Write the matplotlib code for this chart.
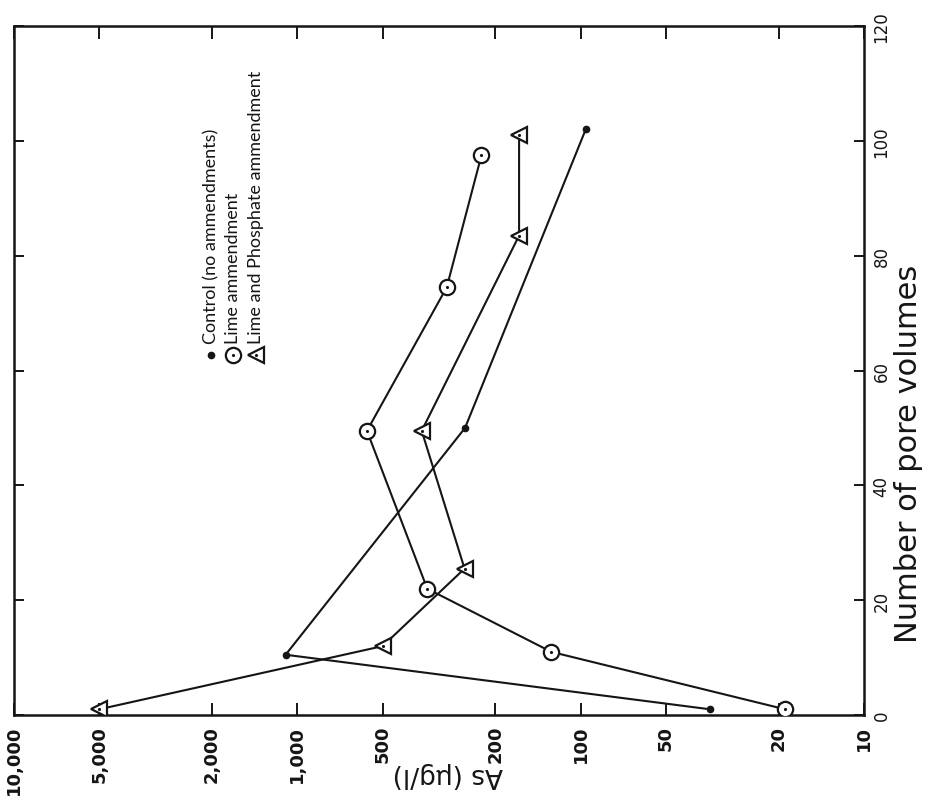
import matplotlib
matplotlib.use("Agg")
import matplotlib.pyplot as plt

# As concentration (ug/l) vs number of pore volumes
control_pv = [1, 10.5, 50, 102]
control_as = [35, 1100, 256, 96]

lime_pv = [1, 11, 22, 49.5, 74.5, 97.5]
lime_as = [19, 127, 348, 568, 297, 224]

limephos_pv = [1, 12, 25.5, 49.5, 83.5, 101]
limephos_as = [5000, 500, 257, 364, 165, 165]

as_ticks = [10000, 5000, 2000, 1000, 500, 200, 100, 50, 20, 10]
as_labels = ["10,000", "5,000", "2,000", "1,000", "500", "200", "100", "50", "20", "10"]
pv_ticks = [0, 20, 40, 60, 80, 100, 120]

legend_labels = ["Control (no ammendments)", "Lime ammendment",
                 "Lime and Phosphate ammendment"]

INK = "#151515"
NARROW = ["Liberation Sans Narrow", "DejaVu Sans"]

fig = plt.figure(figsize=(9.27, 8.12), dpi=100)
ax = fig.add_axes([0.0151, 0.1182, 0.917, 0.8485])

# page is turned on its side: As runs along the bottom (reversed log), pore volumes up the right
ax.plot(control_as, control_pv, color=INK, lw=1.5, marker="o", ms=4.5,
        mfc=INK, mec=INK, zorder=3)
ax.plot(lime_as, lime_pv, color=INK, lw=1.5, marker="o", ms=11,
        mfc="white", mec=INK, mew=1.6, zorder=3)
ax.plot(lime_as, lime_pv, ls="none", marker=".", ms=2.5, color=INK, zorder=4)
ax.plot(limephos_as, limephos_pv, color=INK, lw=1.5, marker="<", ms=11,
        mfc="white", mec=INK, mew=1.6, zorder=3)
ax.plot(limephos_as, limephos_pv, ls="none", marker=".", ms=2.5, color=INK, zorder=4)

ax.set_xscale("log")
ax.set_xlim(10000, 10)
ax.set_ylim(0, 120)
ax.minorticks_off()

ax.set_xticks(as_ticks)
ax.set_xticklabels(as_labels, rotation=90, fontsize=13, fontweight="bold",
                   family=NARROW, color=INK)
ax.set_yticks(pv_ticks)
ax.set_yticklabels([str(t) for t in pv_ticks], rotation=90, fontsize=12,
                   family=NARROW, color=INK, va="center")

ax.tick_params(axis="x", which="both", direction="in", length=9, width=1.4,
               top=True, bottom=True, pad=7, colors=INK)
ax.tick_params(axis="y", which="both", direction="in", length=7, width=1.4,
               left=True, right=True, labelleft=False, labelright=True,
               pad=6, colors=INK)

for s in ax.spines.values():
    s.set_linewidth(1.8)
    s.set_color(INK)

ax.text(0.51, -0.085, "As (\u03bcg/l)", transform=ax.transAxes, rotation=180,
        ha="center", va="center", fontsize=19, color=INK)
fig.text(0.98, 0.441, "Number of pore volumes", rotation=90, ha="center",
         va="center", fontsize=22, color=INK)

# hand-drawn legend, rotated with the page
leg_x = [0.232, 0.258, 0.285]
leg_y = 0.5225
ax.plot(leg_x[0], leg_y, transform=ax.transAxes, marker="o", ms=4.5,
        color=INK, clip_on=False)
ax.plot(leg_x[1], leg_y, transform=ax.transAxes, marker="o", ms=11,
        mfc="white", mec=INK, mew=1.6, clip_on=False)
ax.plot(leg_x[1], leg_y, transform=ax.transAxes, marker=".", ms=2.5, color=INK)
ax.plot(leg_x[2], leg_y, transform=ax.transAxes, marker="<", ms=11,
        mfc="white", mec=INK, mew=1.6, clip_on=False)
ax.plot(leg_x[2], leg_y, transform=ax.transAxes, marker=".", ms=2.5, color=INK)
for lx, lab in zip(leg_x, legend_labels):
    ax.text(lx, leg_y + 0.018, lab, transform=ax.transAxes, rotation=90,
            ha="center", va="bottom", fontsize=13, family=["Lato", "DejaVu Sans"],
            color=INK)

fig.savefig("out.png", dpi=100)
plt.close(fig)
